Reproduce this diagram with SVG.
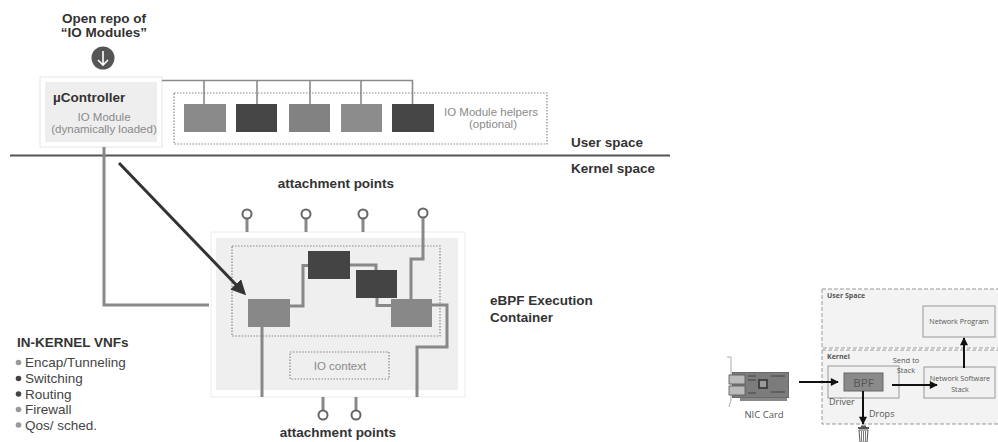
<svg xmlns="http://www.w3.org/2000/svg" width="998" height="442" viewBox="0 0 998 442">
  <style>
    .b { font-family: "Liberation Sans", Arial, sans-serif; font-weight: bold; fill: #333; font-size: 13.5px; }
    .r { font-family: "Liberation Sans", Arial, sans-serif; fill: #444; font-size: 13.5px; }
    .lt { font-family: "Liberation Sans", Arial, sans-serif; fill: #8a8a8a; font-size: 11.5px; }
    .sm { font-family: "Open Sans", "Liberation Sans", sans-serif; fill: #555; }
    .bus { stroke: #8a8a8a; stroke-width: 1.6; fill: none; }
    .wire { stroke: #888; stroke-width: 3; fill: none; }
    .dot { fill: none; stroke: #888; stroke-width: 1.2; stroke-dasharray: 1.5 1.5; }
    .dash { fill: #f3f3f3; stroke: #999; stroke-width: 1; stroke-dasharray: 4 2; }
    .lg { fill: #888; }
    .dk { fill: #454545; }
    .pin { fill: #fff; stroke: #666; stroke-width: 2; }
    .arr { stroke: #111; stroke-width: 2; fill: none; }
  </style>
  <defs>
    <marker id="headBig" viewBox="0 0 10 10" refX="8" refY="5" markerWidth="5" markerHeight="5" orient="auto" markerUnits="strokeWidth">
      <path d="M0,0 L10,5 L0,10 z" fill="#333"/>
    </marker>
    <marker id="headSm" viewBox="0 0 10 10" refX="9" refY="5" markerWidth="5" markerHeight="4" orient="auto" markerUnits="strokeWidth">
      <path d="M0,0 L10,5 L0,10 z" fill="#111"/>
    </marker>
  </defs>
  <rect width="998" height="442" fill="#fff"/>

  <!-- repository header with download badge -->
  <g id="repo">
    <text class="b" x="104" y="23" text-anchor="middle">Open repo of</text>
    <text class="b" x="104" y="37" text-anchor="middle">“IO Modules”</text>
    <circle cx="103" cy="58" r="11.5" fill="#555"/>
    <path d="M103,51 V65 M98,60 L103,65 L108,60" stroke="#fff" stroke-width="1.6" fill="none"/>
  </g>

  <!-- controller -->
  <g id="controller">
    <rect x="40" y="77" width="122" height="70" fill="#fff" stroke="#e6e6e6"/>
    <rect x="45" y="82" width="112" height="60" fill="#eeeeee"/>
    <text class="b" x="53" y="102" font-size="14.5">µController</text>
    <text class="lt" x="104" y="121" text-anchor="middle" font-size="11.5">IO Module</text>
    <text class="lt" x="104" y="133" text-anchor="middle" font-size="11">(dynamically loaded)</text>
  </g>

  <!-- optional helper modules -->
  <g id="helpers">
    <rect class="dot" x="174" y="93" width="373" height="51"/>
    <rect x="184" y="104" width="42" height="28" fill="#8a8a8a"/>
    <rect class="dk" x="236" y="104" width="41" height="28"/>
    <rect x="289" y="104" width="41" height="28" fill="#828282"/>
    <rect x="341" y="104" width="41" height="28" fill="#8c8c8c"/>
    <rect class="dk" x="392" y="104" width="42" height="28"/>
    <text class="lt" x="491" y="116" text-anchor="middle" font-size="11">IO Module helpers</text>
    <text class="lt" x="493" y="128" text-anchor="middle" font-size="11">(optional)</text>
  </g>

  <!-- user / kernel boundary -->
  <g id="boundary">
    <line x1="10" y1="155.5" x2="670" y2="155.5" stroke="#555" stroke-width="2"/>
    <text class="b" x="571" y="147">User space</text>
    <text class="b" x="571" y="173">Kernel space</text>
  </g>

  <!-- eBPF execution container -->
  <g id="container">
    <rect x="211" y="232" width="254" height="165" fill="#fff" stroke="#ececec"/>
    <rect x="216" y="238" width="242" height="152" fill="#efefef"/>
    <rect class="dot" x="232" y="246" width="208" height="90"/>
    <rect class="dot" x="290" y="352" width="99" height="27"/>
    <text class="lt" x="340" y="370" text-anchor="middle" font-size="12.5">IO context</text>
    <text class="b" x="490" y="305">eBPF Execution</text>
    <text class="b" x="490" y="322">Container</text>
  </g>

  <!-- attachment points -->
  <g id="attach-top">
    <text class="b" x="336" y="188" text-anchor="middle">attachment points</text>
    <g class="wire">
      <line x1="247" y1="219" x2="247" y2="232"/>
      <line x1="306" y1="219" x2="306" y2="232"/>
      <line x1="363" y1="219" x2="363" y2="232"/>
    </g>
    <circle class="pin" cx="247" cy="214" r="4.5"/>
    <circle class="pin" cx="306" cy="214" r="4.5"/>
    <circle class="pin" cx="363" cy="214" r="4.5"/>
    <circle class="pin" cx="423" cy="213" r="4.5"/>
  </g>
  <g id="attach-bottom">
    <g class="wire">
      <line x1="323" y1="397" x2="323" y2="411"/>
      <line x1="356" y1="397" x2="356" y2="411"/>
    </g>
    <circle class="pin" cx="323" cy="415" r="4.5"/>
    <circle class="pin" cx="356" cy="415" r="4.5"/>
    <text class="b" x="338" y="437" text-anchor="middle">attachment points</text>
  </g>

  <!-- connectors -->
  <g id="connectors">
    <path class="bus" d="M162,80.5 H413 M204,80.5 V104 M257,80.5 V104 M310,80.5 V104 M361,80.5 V104 M412.5,80.5 V104"/>
    <path class="wire" d="M104,147 V305 H209"/>
    <line x1="119" y1="163" x2="244" y2="293" stroke="#333" stroke-width="3" marker-end="url(#headBig)"/>
    <path class="wire" d="M423,218 V259 H411 V300"/>
    <path class="wire" d="M290,306 H303 V265.5 H308"/>
    <path class="wire" d="M350,265 H376 V271"/>
    <path class="wire" d="M377,297 V305.5 H391"/>
    <path class="wire" d="M432,305 H447 V347 H417 V397"/>
    <path class="wire" d="M262,327 V397"/>
  </g>

  <!-- modules inside the container -->
  <g id="module-a"><rect x="248" y="299" width="42" height="28" fill="#888"/></g>
  <g id="module-b"><rect x="308" y="251" width="42" height="28" fill="#444"/></g>
  <g id="module-c"><rect x="356" y="270" width="41" height="28" fill="#444"/></g>
  <g id="module-d"><rect x="391" y="299" width="41" height="28" fill="#888"/></g>

  <!-- in-kernel VNF list -->
  <g id="vnfs">
    <text class="b" x="17" y="347">IN-KERNEL VNFs</text>
    <circle cx="18.5" cy="362.5" r="2.8" fill="#999"/>
    <text class="r" x="25" y="367">Encap/Tunneling</text>
    <circle cx="18.5" cy="378.5" r="2.8" fill="#444"/>
    <text class="r" x="25" y="383">Switching</text>
    <circle cx="18.5" cy="394" r="2.8" fill="#444"/>
    <text class="r" x="25" y="399">Routing</text>
    <circle cx="18.5" cy="409.5" r="2.8" fill="#999"/>
    <text class="r" x="25" y="414">Firewall</text>
    <circle cx="18.5" cy="425" r="2.8" fill="#999"/>
    <text class="r" x="25" y="430">Qos/ sched.</text>
  </g>

  <!-- packet path: NIC to user program -->
  <g id="user-space">
    <rect class="dash" x="822" y="289" width="180" height="59"/>
    <text class="sm" x="827" y="298" font-size="7" font-weight="bold" fill="#333">User Space</text>
  </g>
  <g id="kernel">
    <rect class="dash" x="822" y="350" width="180" height="74"/>
    <text class="sm" x="827" y="359" font-size="7" font-weight="bold" fill="#333">Kernel</text>
  </g>
  <g id="network-program">
    <rect x="923" y="306" width="72" height="31" fill="#f1f1f1" stroke="#999"/>
    <text class="sm" x="959" y="324" font-size="7.2" text-anchor="middle">Network Program</text>
  </g>
  <g id="driver">
    <rect x="828" y="366" width="71" height="32" fill="#f1f1f1" stroke="#999"/>
    <text class="sm" x="829" y="405" font-size="9">Driver</text>
  </g>
  <g id="bpf">
    <rect x="844" y="373" width="39" height="18" fill="#8a8a8a" stroke="#666"/>
    <text class="sm" x="863.5" y="386.5" font-size="11.5" text-anchor="middle" fill="#ddd">BPF</text>
  </g>
  <g id="stack">
    <rect x="924" y="367" width="71" height="31" fill="#f1f1f1" stroke="#999"/>
    <text class="sm" x="960" y="381" font-size="7.2" text-anchor="middle">Network Software</text>
    <text class="sm" x="960" y="392" font-size="7.2" text-anchor="middle">Stack</text>
  </g>
  <g id="nic-card">
    <path d="M727,357 L731,357 L731,400 L729,407" stroke="#aaa" stroke-width="1" fill="none"/>
    <rect x="732" y="372" width="57" height="26" fill="#6a6a6a"/>
    <rect x="733" y="373" width="55" height="24" fill="#7c7c7c"/>
    <rect x="758" y="379" width="10" height="10" fill="#444"/>
    <rect x="760" y="381" width="6" height="6" fill="#999"/>
    <rect x="729" y="375" width="16" height="9" fill="#bbb" stroke="#555" stroke-width="0.8"/>
    <rect x="729" y="386" width="16" height="9" fill="#bbb" stroke="#555" stroke-width="0.8"/>
    <path d="M748,376 h8 M748,380 h8 M771,376 h14 M771,392 h14 M748,393 h8" stroke="#444" stroke-width="1"/>
    <rect x="740" y="398" width="47" height="3" fill="#888"/>
    <text class="sm" x="764" y="418" font-size="9.5" text-anchor="middle" fill="#666">NIC Card</text>
  </g>
  <g id="trash">
    <rect x="858" y="427" width="11" height="2" fill="#555"/>
    <rect x="861" y="425.5" width="5" height="1.5" fill="#555"/>
    <path d="M859,430 H868 L867,442 H860 Z" fill="none" stroke="#555" stroke-width="1"/>
    <path d="M861.5,431 V441 M863.5,431 V441 M865.5,431 V441" stroke="#555" stroke-width="0.8"/>
  </g>
  <g id="right-labels">
    <text class="sm" x="906" y="363" font-size="7.5" text-anchor="middle">Send to</text>
    <text class="sm" x="906" y="373" font-size="7.5" text-anchor="middle">Stack</text>
    <text class="sm" x="869" y="417" font-size="9">Drops</text>
  </g>
  <g id="right-connectors">
    <line class="arr" x1="799" y1="382" x2="838" y2="382" marker-end="url(#headSm)"/>
    <line class="arr" x1="892" y1="385" x2="937" y2="385" marker-end="url(#headSm)"/>
    <line class="arr" x1="964" y1="368" x2="964" y2="338" marker-end="url(#headSm)"/>
    <line class="arr" x1="863" y1="391" x2="863" y2="424" marker-end="url(#headSm)"/>
  </g>
</svg>
